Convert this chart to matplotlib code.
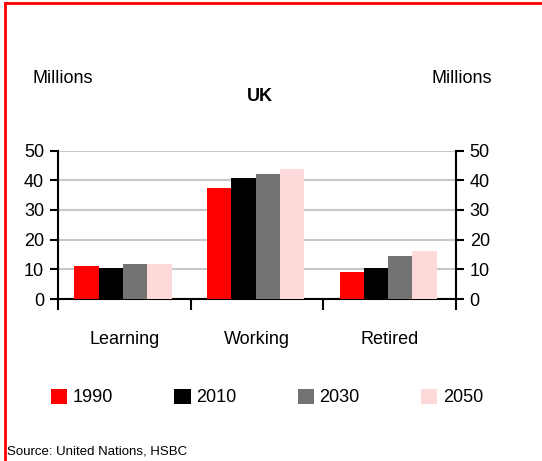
import numpy as np
import matplotlib.pyplot as plt
from matplotlib.lines import Line2D

plt.rcParams['font.family'] = ['Liberation Sans', 'DejaVu Sans']

# Data
categories = ['Learning', 'Working', 'Retired']
years = ['1990', '2010', '2030', '2050']
values = {
    '1990': [11.1, 37.5, 9.1],
    '2010': [10.5, 40.9, 10.5],
    '2030': [11.8, 42.2, 14.5],
    '2050': [11.8, 43.9, 16.2],
}
colors = ['#FF0000', '#000000', '#737373', '#FFD9D9']

fig = plt.figure(figsize=(5.42, 4.61), dpi=100)
ax = fig.add_axes([0.107, 0.3514, 0.734, 0.3218])

x = np.arange(len(categories))
w = 0.183
for i, (yr, c) in enumerate(zip(years, colors)):
    ax.bar(x + (i - 1.5) * w - 0.01, values[yr], width=w, color=c, label=yr, zorder=3)

ax.set_xlim(-0.5, 2.5)
ax.set_ylim(0, 50)
ax.set_yticks(range(0, 51, 10))
ax.yaxis.grid(True, color='#C8C8C8', linewidth=1.5, zorder=0)
ax.set_axisbelow(True)

ax.spines['top'].set_visible(False)
for s in ['left', 'right', 'bottom']:
    ax.spines[s].set_linewidth(1.5)

ax.tick_params(axis='y', which='both', left=True, right=True, labelleft=True, labelright=True,
               direction='out', length=6, width=1.5, labelsize=13, pad=4)
ax.set_xticks(x)
ax.set_xticklabels(categories)
ax.set_xticks([-0.5, 0.5, 1.5, 2.5], minor=True)
ax.tick_params(axis='x', which='major', length=0, labelsize=13, pad=23)
ax.tick_params(axis='x', which='minor', length=8, width=1.5, direction='out')

fig.text(0.06, 0.83, 'Millions', fontsize=13, va='center')
fig.text(0.797, 0.83, 'Millions', fontsize=13, va='center')
fig.text(0.48, 0.79, 'UK', fontsize=13, fontweight='bold', ha='center', va='center')

handles, labels = ax.get_legend_handles_labels()
fig.legend(handles, labels, ncol=4, loc='center left', bbox_to_anchor=(0.094, 0.138),
           frameon=False, fontsize=13, handlelength=0.9, handleheight=0.9,
           handletextpad=0.3, columnspacing=3.4, borderaxespad=0, borderpad=0)

fig.text(0.013, 0.02, 'Source: United Nations, HSBC', fontsize=9.5, va='center')

# red frame
fig.add_artist(Line2D([0.01, 0.01], [0, 0.993], color='#FF0000', linewidth=2, transform=fig.transFigure))
fig.add_artist(Line2D([0.01, 1], [0.993, 0.993], color='#FF0000', linewidth=2, transform=fig.transFigure))

fig.savefig('out.png', dpi=100)
